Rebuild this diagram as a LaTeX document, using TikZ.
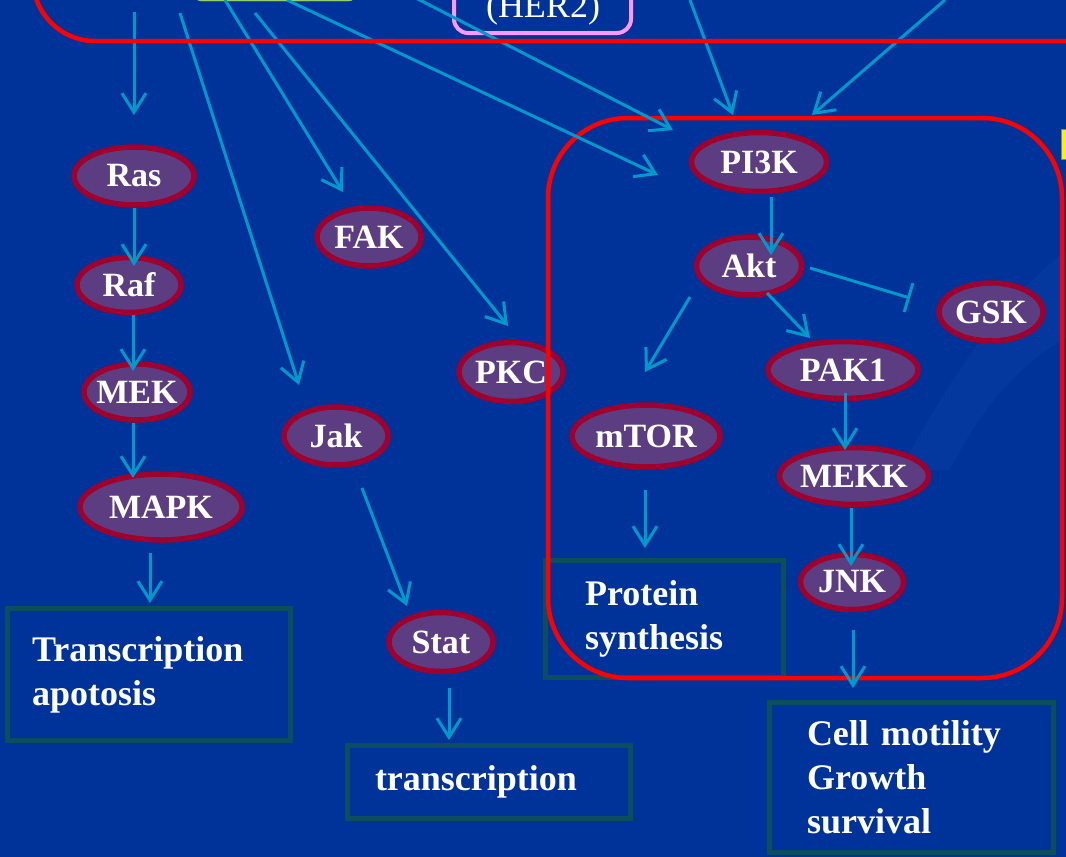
\documentclass[tikz,border=0pt]{standalone}
\usepackage{fontspec}
\setmainfont{Liberation Serif}
\usetikzlibrary{arrows.meta,calc,shapes.geometric}

\definecolor{hintergrund}{RGB}{0,51,153}
\definecolor{schwung}{RGB}{5,56,158}
\definecolor{pfeilblau}{RGB}{0,153,204}
\definecolor{enzymfill}{RGB}{93,61,130}
\definecolor{enzymrand}{RGB}{160,0,45}
\definecolor{kastenrand}{RGB}{14,77,94}
\definecolor{rahmenrot}{RGB}{255,0,0}
\definecolor{herrosa}{RGB}{255,153,255}
\definecolor{gruenkasten}{RGB}{153,204,102}

\tikzset{
  enzym/.style={ellipse, draw=enzymrand, line width=5.5pt, fill=enzymfill, text=white,
    inner xsep=-8pt, inner ysep=0pt, font=\fontsize{34}{40}\selectfont\bfseries},
  kasten/.style={rectangle, draw=kastenrand, line width=5pt, text=white, align=left,
    font=\fontsize{36}{44}\selectfont\bfseries},
  pfeil/.style={draw=pfeilblau, line width=3pt, -{Straight Barb[length=19pt,width=24pt]}},
  hemmung/.style={draw=pfeilblau, line width=3pt, -{Bar[width=30pt]}},
  rahmen/.style={draw=rahmenrot, line width=4.5pt},
}

\begin{document}
\begin{tikzpicture}[x=1pt,y=-1pt]
% Koordinaten in Pixeln, y zeigt nach unten
\useasboundingbox (0,0) rectangle (1066,857);
\clip (0,0) rectangle (1066,857);
\fill[hintergrund] (0,0) rectangle (1066,857);
\fill[schwung] (900,470) .. controls (960,360) and (1010,290) .. (1080,240) -- (1080,330) .. controls (1020,360) and (980,410) .. (950,470) -- cycle;

% Rezeptoren oben (nur angeschnitten)
\draw[gruenkasten, fill=gruenkasten, rounded corners=6pt] (195,-60) rectangle (355,1);
\draw[herrosa, line width=4pt, rounded corners=14pt] (454,-80) rectangle (631,33);
\node[text=white, font=\fontsize{36}{40}\selectfont, anchor=base] (HER) at (543,17) {(HER2)};
\filldraw[fill=yellow, draw=gray] (1061,129) rectangle (1075,159);

% Startpunkte der Pfeile an den Rezeptoren
\coordinate (ausRas) at (134,12);
\coordinate (ausJak) at (180,13);
\coordinate (ausFAK) at (225,0);
\coordinate (ausPKC) at (255,13);
\coordinate (ausPIa) at (287,0);
\coordinate (ausPIb) at (410,-5);
\coordinate (ausPIc) at (690,0);
\coordinate (ausPId) at (945,0);

% Enzyme: Name/x/y/Breite/Hoehe
\foreach \knoten/\px/\py/\b/\h in {Ras/134/176/120/58, Raf/129/285/104/55, MEK/137/392/106/56,
  MAPK/161/507/162/66, FAK/369/237/104/58, PKC/511/372/104/59, Jak/336/436/104/58,
  Stat/441/642/104/59, PI3K/759/162/135/59, Akt/749/266/105/58, GSK/991/312/104/58,
  PAK1/843/370/150/57, mTOR/646/436/148/62, MEKK/854/476/149/57, JNK/852/582/103/55}{
  \node[enzym, minimum width=\b, minimum height=\h] (\knoten) at (\px,\py) {\knoten};
}

% Wirkungen
\node[kasten, minimum height=132, text width=234, inner xsep=24.5] (TA) at (149,674.5) {Transcription\\apotosis};
\node[kasten, minimum height=73, text width=228, inner xsep=27.5] (TR) at (489,782) {transcription};
\node[kasten, minimum height=117, text width=159, inner xsep=39.5] (PS) at (664.5,619) {Protein\\synthesis};
\node[kasten, minimum height=150, text width=209, inner xsep=37.5] (CM) at (911.5,777.5) {Cell motility\\Growth\\survival};

% PI3K-Weg
\draw[rahmen, rounded corners=80pt] (548,118) rectangle (1062,678);

% Ras-Weg
\draw[pfeil] (ausRas) -- ($(Ras)+(0,-61)$);
\draw[pfeil] ($(Ras)+(0,32)$) -- ($(Raf)+(5,-19)$);
\draw[pfeil] ($(Raf)+(4,30)$) -- ($(MEK)+(-4,-21)$);
\draw[pfeil] ($(MEK)+(-4,31)$) -- ($(MAPK)+(-28,-29)$);
\draw[pfeil] ($(MAPK)+(-11,46)$) -- ($(TA.north)+(1,-3)$);
% Jak/Stat, FAK, PKC
\draw[pfeil] (ausJak) -- ($(Jak)+(-37,-51)$);
\draw[pfeil] ($(Jak)+(26,52)$) -- ($(Stat)+(-34,-36)$);
\draw[pfeil] ($(Stat)+(8,46)$) -- ($(TR.north)+(-40,-3)$);
\draw[pfeil] (ausFAK) -- ($(FAK)+(-26,-45)$);
\draw[pfeil] (ausPKC) -- ($(PKC)+(-3,-46)$);
% zum PI3K
\draw[pfeil] (ausPIa) -- ($(PI3K)+(-101,13)$);
\draw[pfeil] (ausPIb) -- ($(PI3K)+(-86,-32)$);
\draw[pfeil] (ausPIc) -- ($(PI3K)+(-26,-47)$);
\draw[pfeil] (ausPId) -- ($(PI3K)+(53,-47)$);
\draw[pfeil] ($(PI3K)+(12,35)$) -- ($(Akt)+(22,-11)$);
\draw[pfeil] ($(Akt)+(-59,31)$) -- ($(mTOR)+(-1,-64)$);
\draw[pfeil] ($(Akt)+(18,27)$) -- ($(PAK1)+(-33,-32)$);
\draw[hemmung] ($(Akt)+(61,2)$) -- ($(GSK)+(-81,-14)$);
\draw[pfeil] ($(PAK1)+(2,23)$) -- ($(MEKK)+(-9,-26)$);
\draw[pfeil] ($(MEKK)+(-3,32)$) -- ($(JNK)+(-1,-16)$);
\draw[pfeil] ($(mTOR)+(-1,54)$) -- ($(PS.north)+(-19.5,-10)$);
\draw[pfeil] ($(JNK)+(1,48)$) -- ($(CM.north)+(-58.5,-12)$);

% Zellmembran-Rahmen oben
\draw[rahmen, rounded corners=62pt] (33,-200) rectangle (1200,41);
\end{tikzpicture}
\end{document}
